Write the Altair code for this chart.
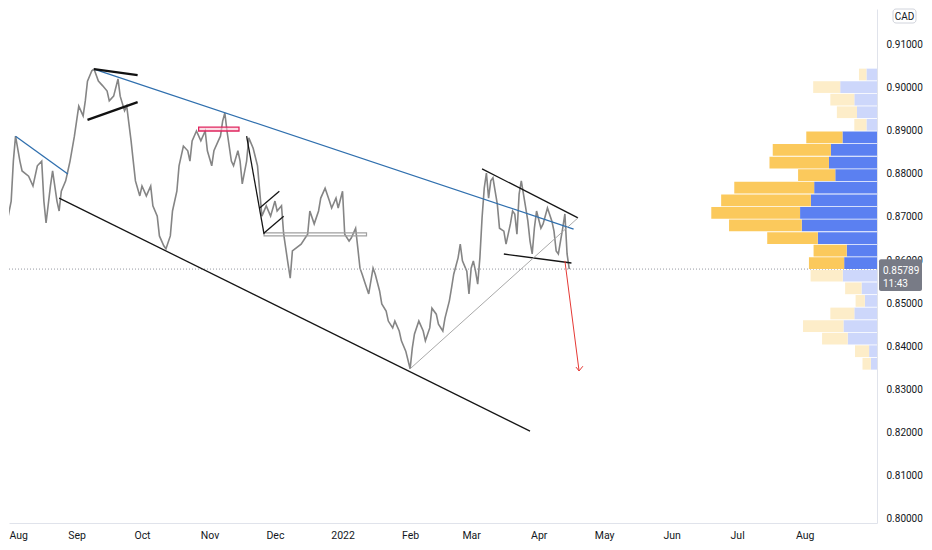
import altair as alt
import pandas as pd
import numpy as np

# ---------------- data ----------------
price_dates = [
    "2021-07-28", "2021-07-30", "2021-07-31", "2021-08-02", "2021-08-03", "2021-08-04", "2021-08-06", "2021-08-07",
    "2021-08-10", "2021-08-12", "2021-08-14", "2021-08-16", "2021-08-17", "2021-08-18", "2021-08-20", "2021-08-21",
    "2021-08-23", "2021-08-24", "2021-08-25", "2021-08-27", "2021-08-28", "2021-08-29", "2021-08-31", "2021-09-01",
    "2021-09-02", "2021-09-04", "2021-09-05", "2021-09-06", "2021-09-08", "2021-09-09", "2021-09-11", "2021-09-13",
    "2021-09-15", "2021-09-16", "2021-09-18", "2021-09-20", "2021-09-21", "2021-09-23", "2021-09-24", "2021-09-26",
    "2021-09-27", "2021-09-28", "2021-09-30", "2021-10-01", "2021-10-03", "2021-10-05", "2021-10-06", "2021-10-08",
    "2021-10-09", "2021-10-11", "2021-10-12", "2021-10-14", "2021-10-15", "2021-10-17", "2021-10-18", "2021-10-20",
    "2021-10-22", "2021-10-23", "2021-10-24", "2021-10-26", "2021-10-28", "2021-10-30", "2021-10-31", "2021-11-02",
    "2021-11-03", "2021-11-05", "2021-11-06", "2021-11-07", "2021-11-08", "2021-11-09", "2021-11-11", "2021-11-12",
    "2021-11-14", "2021-11-15", "2021-11-16", "2021-11-18", "2021-11-19", "2021-11-21", "2021-11-23", "2021-11-25",
    "2021-11-27", "2021-11-29", "2021-12-01", "2021-12-02", "2021-12-04", "2021-12-05", "2021-12-07", "2021-12-08",
    "2021-12-09", "2021-12-13", "2021-12-16", "2021-12-17", "2021-12-19", "2021-12-21", "2021-12-22", "2021-12-24",
    "2021-12-26", "2021-12-27", "2021-12-29", "2021-12-30", "2022-01-01", "2022-01-02", "2022-01-04", "2022-01-05",
    "2022-01-07", "2022-01-08", "2022-01-09", "2022-01-10", "2022-01-11", "2022-01-13", "2022-01-15", "2022-01-16",
    "2022-01-18", "2022-01-19", "2022-01-21", "2022-01-22", "2022-01-24", "2022-01-25", "2022-01-27", "2022-01-28",
    "2022-01-30", "2022-02-01", "2022-02-02", "2022-02-03", "2022-02-05", "2022-02-07", "2022-02-08", "2022-02-10",
    "2022-02-11", "2022-02-13", "2022-02-14", "2022-02-16", "2022-02-17", "2022-02-19", "2022-02-20", "2022-02-21",
    "2022-02-23", "2022-02-24", "2022-02-25", "2022-02-27", "2022-02-28", "2022-03-01", "2022-03-02", "2022-03-03",
    "2022-03-04", "2022-03-05", "2022-03-06", "2022-03-07", "2022-03-08", "2022-03-09", "2022-03-10", "2022-03-11",
    "2022-03-12", "2022-03-13", "2022-03-14", "2022-03-16", "2022-03-17", "2022-03-19", "2022-03-20", "2022-03-21",
    "2022-03-22", "2022-03-23", "2022-03-24", "2022-03-25", "2022-03-27", "2022-03-28", "2022-03-29", "2022-03-30",
    "2022-03-31", "2022-04-02", "2022-04-03", "2022-04-05", "2022-04-07", "2022-04-08", "2022-04-09", "2022-04-10",
    "2022-04-12", "2022-04-13", "2022-04-14", "2022-04-15",
]
price_values = [
    0.8714, 0.8702, 0.8686, 0.8737, 0.8830, 0.8888, 0.8830, 0.8807,
    0.8795, 0.8772, 0.8819, 0.8830, 0.8737, 0.8686, 0.8772, 0.8807,
    0.8737, 0.8714, 0.8760, 0.8784, 0.8807, 0.8830, 0.8888, 0.8923,
    0.8958, 0.8935, 0.8970, 0.9016, 0.9040, 0.9044, 0.9016, 0.9005,
    0.8993, 0.8970, 0.8981, 0.9021, 0.8981, 0.8947, 0.8958, 0.8877,
    0.8830, 0.8784, 0.8749, 0.8772, 0.8749, 0.8772, 0.8726, 0.8702,
    0.8656, 0.8633, 0.8626, 0.8656, 0.8714, 0.8760, 0.8819, 0.8865,
    0.8854, 0.8830, 0.8877, 0.8900, 0.8877, 0.8900, 0.8854, 0.8819,
    0.8854, 0.8877, 0.8888, 0.8923, 0.8942, 0.8900, 0.8830, 0.8819,
    0.8854, 0.8830, 0.8777, 0.8830, 0.8884, 0.8860, 0.8819, 0.8702,
    0.8726, 0.8702, 0.8737, 0.8714, 0.8726, 0.8660, 0.8591, 0.8558,
    0.8621, 0.8637, 0.8660, 0.8714, 0.8684, 0.8714, 0.8744, 0.8767,
    0.8737, 0.8721, 0.8744, 0.8721, 0.8760, 0.8660, 0.8644, 0.8651,
    0.8674, 0.8628, 0.8581, 0.8567, 0.8551, 0.8521, 0.8581, 0.8567,
    0.8528, 0.8498, 0.8481, 0.8458, 0.8442, 0.8458, 0.8435, 0.8412,
    0.8388, 0.8347, 0.8395, 0.8428, 0.8458, 0.8435, 0.8412, 0.8442,
    0.8488, 0.8474, 0.8451, 0.8435, 0.8465, 0.8505, 0.8535, 0.8567,
    0.8605, 0.8637, 0.8598, 0.8574, 0.8521, 0.8581, 0.8598, 0.8574,
    0.8544, 0.8605, 0.8698, 0.8767, 0.8802, 0.8744, 0.8784, 0.8791,
    0.8760, 0.8730, 0.8674, 0.8667, 0.8637, 0.8684, 0.8714, 0.8707,
    0.8660, 0.8753, 0.8784, 0.8753, 0.8691, 0.8644, 0.8614, 0.8674,
    0.8714, 0.8674, 0.8684, 0.8721, 0.8691, 0.8667, 0.8621, 0.8614,
    0.8674, 0.8707, 0.8614, 0.85789,
]
last_time_label = "11:43"

# drawn trend lines (start date, start price, end date, end price)
blue_start_d = ["2021-08-04", "2021-09-09"]
blue_start_p = [0.8888, 0.9044]
blue_end_d = ["2021-08-28", "2022-04-17"]
blue_end_p = [0.8800, 0.8672]

black_start_d = ["2021-08-24", "2021-11-18", "2021-11-24", "2021-11-26", "2022-03-06", "2022-03-16"]
black_start_p = [0.8744, 0.8888, 0.8721, 0.8663, 0.8812, 0.8614]
black_end_d = ["2022-03-28", "2021-11-26", "2021-12-03", "2021-12-05", "2022-04-19", "2022-04-16"]
black_end_p = [0.8202, 0.8660, 0.8760, 0.8702, 0.8698, 0.8593]

thick_start_d = ["2021-09-09", "2021-09-06"]
thick_start_p = [0.9044, 0.8926]
thick_end_d = ["2021-09-29", "2021-09-29"]
thick_end_p = [0.9030, 0.8967]

gray_start_d = ["2022-02-01"]
gray_start_p = [0.8347]
gray_end_d = ["2022-04-19"]
gray_end_p = [0.8698]

arrow_start_d = ["2022-04-13", "2022-04-18T02:00:00Z", "2022-04-21T06:00:00Z"]
arrow_start_p = [0.8598, 0.8351, 0.8353]
arrow_end_d = ["2022-04-19T12:00:00Z", "2022-04-19T12:00:00Z", "2022-04-19T12:00:00Z"]
arrow_end_p = [0.8342, 0.8342, 0.8342]

red_box_d = ["2021-10-27", "2021-11-14T12:00:00Z"]
red_box_p = [0.8900, 0.8909]
gray_box_d = ["2021-11-26", "2022-01-12"]
gray_box_p = [0.8656, 0.8663]

# volume profile rows, top to bottom
vp_high, vp_low = 0.9046, 0.8344
vp_up = [7.6, 27.4, 24.3, 20.4, 12.3, 36.7, 59.0, 60.3, 37.7, 81.0, 91.0, 90.0,
         73.7, 51.3, 33.6, 35.7, 32.6, 16.6, 9.4, 24.3, 41.0, 26.0, 14.3, 8.4]
vp_down = [10.7, 37.3, 23.0, 20.3, 10.7, 35.0, 46.7, 48.7, 42.3, 63.7, 67.0, 78.0,
           76.3, 60.0, 30.7, 33.3, 34.7, 15.7, 12.3, 23.0, 34.0, 29.7, 8.0, 6.3]
value_area_rows = (5, 15)  # first and last row index (0-based) of the value area

y_ticks = [0.80, 0.81, 0.82, 0.83, 0.84, 0.85, 0.86, 0.87, 0.88, 0.89, 0.90, 0.91]
month_ticks = [(2021, m) for m in range(8, 13)] + [(2022, m) for m in range(1, 9)]

# ---------------- chart ----------------
W, H = 868, 514
FONT = "Roboto, sans-serif"
TXT = "#131722"
LAST = price_values[-1]

x_scale = alt.Scale(type="utc", domain=[
    alt.DateTime(year=2021, month=8, date=1, utc=True),
    alt.DateTime(year=2022, month=9, date=3, hours=4, utc=True)])
y_scale = alt.Scale(domain=[0.79884, 0.91837], nice=False, zero=False)

x_axis = alt.Axis(
    values=[alt.DateTime(year=y, month=m, date=1, utc=True) for y, m in month_ticks],
    labelExpr="utcFormat(datum.value, '%m') == '01' ? utcFormat(datum.value, '%Y') : utcFormat(datum.value, '%b')",
    ticks=False, grid=False, domainColor="#e0e3eb", labelColor=TXT, labelFont=FONT,
    labelFontSize=10.5, labelPadding=7, title=None, labelFlush=True, labelOverlap=False)
y_axis = alt.Axis(orient="right", values=y_ticks, format=".5f", ticks=False, grid=False,
                  domainColor="#e0e3eb", labelColor=TXT, labelFont=FONT, labelFontSize=10,
                  labelPadding=9, title=None)

# only the price line carries the date axis; every layer shares the price axis
XN = lambda f: alt.X(f, scale=x_scale, axis=None)
Y = lambda f: alt.Y(f, scale=y_scale, axis=y_axis)

price_df = pd.DataFrame({"date": price_dates, "price": price_values})
line = alt.Chart(price_df).mark_line(color="#858585", strokeWidth=1.6, clip=True).encode(
    x=alt.X("date:T", scale=x_scale, axis=x_axis), y=Y("price:Q"))


def segs(sd, sp, ed, ep, **mark):
    df = pd.DataFrame({"d1": sd, "p1": sp, "d2": ed, "p2": ep})
    return alt.Chart(df).mark_rule(clip=True, **mark).encode(
        x=XN("d1:T"), x2="d2:T", y=Y("p1:Q"), y2="p2:Q")


def box(d, p, **mark):
    df = pd.DataFrame({"d1": [d[0]], "d2": [d[1]], "p1": [p[0]], "p2": [p[1]]})
    return alt.Chart(df).mark_rect(clip=True, **mark).encode(
        x=XN("d1:T"), x2="d2:T", y=Y("p1:Q"), y2="p2:Q")


gray_box = box(gray_box_d, gray_box_p, fill="white", fillOpacity=0, stroke="#a0a0a0", strokeWidth=1.2)
red_box = box(red_box_d, red_box_p, fill="#f9c8d6", fillOpacity=0.6, stroke="#e0245e", strokeWidth=1.3)
blue_l = segs(blue_start_d, blue_start_p, blue_end_d, blue_end_p, color="#2f6fae", strokeWidth=1.3)
black_l = segs(black_start_d, black_start_p, black_end_d, black_end_p, color="#151515", strokeWidth=1.3)
thick_l = segs(thick_start_d, thick_start_p, thick_end_d, thick_end_p, color="#111111", strokeWidth=2.3)
gray_l = segs(gray_start_d, gray_start_p, gray_end_d, gray_end_p, color="#a9a9a9", strokeWidth=1.0)
arrow_l = segs(arrow_start_d, arrow_start_p, arrow_end_d, arrow_end_p, color="#e53935", strokeWidth=1.0)

# volume profile (own horizontal scale, growing leftwards from the price axis)
n = len(vp_up)
edges = np.linspace(vp_high, vp_low, n + 1)
gap = 0.0001
idx = np.arange(n)
va = (idx >= value_area_rows[0]) & (idx <= value_area_rows[1])
vp_df = pd.DataFrame({
    "hi": edges[:-1] - gap, "lo": edges[1:] + gap,
    "base": 0.0, "down": vp_down,
    "total": np.array(vp_down) + np.array(vp_up),
    "bc": np.where(va, "#5b80f1", "#cdd7fb"),
    "yc": np.where(va, "#fbc95c", "#fdedc9"),
})
vx = alt.Scale(domain=[0, 880], reverse=True)
vp_blue = alt.Chart(vp_df).mark_rect().encode(
    x=alt.X("base:Q", scale=vx, axis=None), x2="down:Q",
    y=Y("hi:Q"), y2="lo:Q", color=alt.Color("bc:N", scale=None))
vp_yellow = alt.Chart(vp_df).mark_rect().encode(
    x=alt.X("down:Q", scale=vx, axis=None), x2="total:Q",
    y=Y("hi:Q"), y2="lo:Q", color=alt.Color("yc:N", scale=None))

one = pd.DataFrame({"p": [LAST]})
dotted = alt.Chart(one).mark_rule(color="#9598a1", strokeDash=[1, 2], strokeWidth=1).encode(
    y=Y("p:Q"))

# price tag on the axis
tag_df = pd.DataFrame({"top": [LAST + 0.0023], "bottom": [LAST - 0.0051], "p": [LAST],
                       "txt": [f"{LAST:.5f}"], "t": [last_time_label]})
tag_rect = alt.Chart(tag_df).mark_rect(color="#787b86", cornerRadius=2).encode(
    x=alt.value(W + 2), x2=alt.value(W + 45), y=Y("top:Q"), y2="bottom:Q")
tag_txt = alt.Chart(tag_df).mark_text(color="white", font=FONT, fontSize=10, align="left",
                                      baseline="middle", dy=1.5).encode(
    x=alt.value(W + 6), y=Y("p:Q"), text="txt:N")
tag_time = alt.Chart(tag_df).mark_text(color="white", font=FONT, fontSize=10, align="left",
                                       baseline="middle", dy=15).encode(
    x=alt.value(W + 6), y=Y("p:Q"), text="t:N")

cur_df = pd.DataFrame({"c": ["CAD"]})
cad_box = alt.Chart(cur_df).mark_rect(fill="white", stroke="#d1d4dc", cornerRadius=3).encode(
    x=alt.value(W + 16), x2=alt.value(W + 39), y=alt.value(0), y2=alt.value(14))
cad_txt = alt.Chart(cur_df).mark_text(color=TXT, font=FONT, fontSize=10, baseline="middle").encode(
    x=alt.value(W + 27.5), y=alt.value(7.5), text="c:N")

chart = alt.layer(
    line, dotted, vp_blue, vp_yellow, gray_box, red_box, blue_l, black_l, thick_l, gray_l, arrow_l,
    tag_rect, tag_txt, tag_time, cad_box, cad_txt
).resolve_scale(x="independent").properties(
    width=W, height=H, padding=0, background="white"
).configure_view(stroke=None)

chart.save("out.html", embed_options={"renderer": "svg", "actions": False})
